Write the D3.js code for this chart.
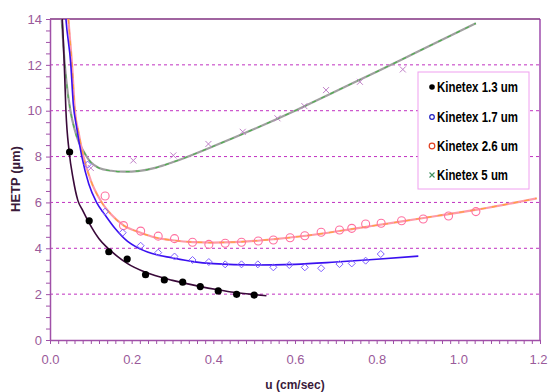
<!DOCTYPE html>
<html><head><meta charset="utf-8">
<script src="https://cdn.jsdelivr.net/npm/d3@7/dist/d3.min.js"></script>
<style>body{margin:0;background:#fff}svg{display:block}</style>
</head><body><svg id="c" width="548" height="392"></svg>
<script>
// ---- measured points ----
const u13 = [0.048,0.096,0.144,0.189,0.234,0.28,0.325,0.368,0.412,0.457,0.50];
const h13 = [8.2,5.2,3.85,3.53,2.85,2.62,2.52,2.33,2.14,1.99,1.96];
const u17 = [0.092,0.135,0.178,0.222,0.265,0.305,0.349,0.389,0.429,0.469,0.509,0.547,0.586,0.624,0.664,0.709,0.739,0.773,0.81];
const h17 = [7.65,5.6,4.68,4.11,3.81,3.64,3.49,3.4,3.3,3.3,3.3,3.17,3.27,3.17,3.13,3.31,3.34,3.46,3.75];
const u26 = [0.135,0.18,0.222,0.265,0.305,0.349,0.389,0.429,0.469,0.51,0.547,0.588,0.624,0.664,0.709,0.739,0.773,0.811,0.861,0.914,0.976,1.043];
const h26 = [6.28,4.99,4.75,4.53,4.42,4.26,4.17,4.22,4.26,4.32,4.36,4.46,4.55,4.7,4.8,4.87,5.06,5.09,5.2,5.28,5.41,5.6];
const u5 = [0.1,0.204,0.302,0.388,0.472,0.557,0.623,0.676,0.759,0.864];
const h5 = [7.5,7.83,8.05,8.55,9.08,9.67,10.2,10.9,11.26,11.8];
// ---- fitted curves ----
const fu13 = [0.028,0.030,0.035,0.039,0.047,0.057,0.068,0.08,0.096,0.12,0.139,0.165,0.19,0.234,0.3,0.366,0.412,0.45,0.5,0.53];
const fh13 = [14.5,14,12,10,8.2,7.0,6.1,5.65,5.1,4.42,4.05,3.65,3.33,2.95,2.6,2.34,2.19,2.08,1.98,1.93];
const fu17 = [0.037,0.039,0.051,0.057,0.065,0.078,0.095,0.114,0.135,0.16,0.19,0.212,0.25,0.3,0.35,0.4,0.5,0.6,0.7,0.8,0.902];
const fh17 = [14.5,14,12,10.3,9.3,8,6.8,6,5.45,4.85,4.3,4.05,3.77,3.58,3.42,3.33,3.27,3.3,3.4,3.52,3.66];
const fu26 = [0.043,0.045,0.054,0.061,0.07,0.082,0.1,0.125,0.15,0.18,0.222,0.26,0.3,0.35,0.4,0.45,0.5,0.55,0.65,0.75,0.85,0.95,1.05,1.192];
const fh26 = [14.5,14,12,10,9.05,8,6.95,6.05,5.47,5.0,4.68,4.46,4.35,4.27,4.25,4.27,4.32,4.4,4.6,4.87,5.14,5.42,5.7,6.18];
const fu5 = [0.028,0.035,0.04,0.05,0.06,0.07,0.08,0.1,0.12,0.15,0.18,0.22,0.26,0.3,0.4,0.5,0.6,0.7,0.8,0.9,1.043];
const fh5 = [14.2,12.3,11.3,10.0,9.2,8.65,8.3,7.75,7.5,7.38,7.34,7.38,7.52,7.75,8.45,9.2,10.0,10.85,11.7,12.57,13.81];
const xTicks = [0,0.2,0.4,0.6,0.8,1.0,1.2];
const yTicks = [0,2,4,6,8,10,12,14];
const legendLabels = ["Kinetex 1.3 um","Kinetex 1.7 um","Kinetex 2.6 um","Kinetex 5 um"];

const svg = d3.select("#c");
const x = d3.scaleLinear([0,1.2],[50,540]);
const y = d3.scaleLinear([0,14],[340,19]);
const zip = (a,b)=>a.map((v,i)=>[v,b[i]]);

svg.append("defs").append("clipPath").attr("id","pc").append("rect")
  .attr("x",50).attr("y",19).attr("width",490).attr("height",321);

// gridlines
svg.append("g").selectAll("line").data(yTicks.filter(d=>d>0&&d<14)).join("line")
  .attr("x1",x(0)).attr("x2",x(1.2)).attr("y1",d=>y(d)).attr("y2",d=>y(d))
  .attr("stroke","#c030c0").attr("stroke-width",1).attr("stroke-dasharray","3,3");
// top & right border
svg.append("line").attr("x1",x(0)).attr("x2",x(1.2)).attr("y1",y(14)).attr("y2",y(14))
  .attr("stroke","#803080").attr("stroke-width",1.3);
svg.append("line").attr("x1",x(1.2)).attr("x2",x(1.2)).attr("y1",y(14)).attr("y2",y(0))
  .attr("stroke","#9030a0").attr("stroke-width",1.3);

// axes
const axCol = "#a050a8", lblCol = "#9a5a9a";
const xa = svg.append("g").attr("transform",`translate(0,${y(0)})`)
  .call(d3.axisBottom(x).tickValues(d3.range(0,60.5,1).map(i=>i*0.02)).tickSize(4).tickSizeOuter(0).tickPadding(11)
    .tickFormat(d=>{const k=d/0.2; return Math.abs(k-Math.round(k))<1e-6 ? d3.format(".1f")(d) : "";}));
const ya = svg.append("g").attr("transform",`translate(${x(0)},0)`)
  .call(d3.axisLeft(y).tickValues(d3.range(0,28.5,1).map(i=>i*0.5)).tickSize(4).tickSizeOuter(0).tickPadding(4)
    .tickFormat(d=>yTicks.includes(d)?String(d):""));
[xa,ya].forEach(g=>{
  g.select(".domain").attr("stroke",axCol).attr("stroke-width",1.5);
  g.selectAll(".tick line").attr("stroke",axCol);
  g.selectAll(".tick text").attr("fill",lblCol).attr("font-family","Liberation Sans, Arial, sans-serif").attr("font-size",13);
});
// keep the last x label inside the window
xa.selectAll(".tick text").filter(d=>Math.abs(d-1.2)<1e-6).attr("text-anchor","end").attr("dx",7);

// titles
svg.append("text").attr("transform","translate(20,179) rotate(-90)").attr("text-anchor","middle")
  .attr("font-family","Liberation Sans, Arial, sans-serif").attr("font-weight","bold").attr("font-size",13)
  .attr("fill","#3a1a3a").text("HETP (µm)");
svg.append("text").attr("x",295).attr("y",389).attr("text-anchor","middle")
  .attr("font-family","Liberation Sans, Arial, sans-serif").attr("font-weight","bold").attr("font-size",12)
  .attr("fill","#3a1a3a").text("u (cm/sec)");

// curves
const line = d3.line().x(d=>x(d[0])).y(d=>y(d[1])).curve(d3.curveMonotoneX);
const cg = svg.append("g").attr("clip-path","url(#pc)");
cg.append("path").attr("d",line(zip(fu5,fh5))).attr("fill","none").attr("stroke","#a0a0a0").attr("stroke-width",2.2);
cg.append("path").attr("d",line(zip(fu5,fh5))).attr("fill","none").attr("stroke","#50b050").attr("stroke-width",1.2).attr("stroke-dasharray","4,6");
cg.append("path").attr("d",line(zip(fu26,fh26))).attr("fill","none").attr("stroke","#ff9aa8").attr("stroke-width",2.2);
cg.append("path").attr("d",line(zip(fu26,fh26))).attr("fill","none").attr("stroke","#ffa040").attr("stroke-width",1.3).attr("stroke-dasharray","5,6");
cg.append("path").attr("d",line(zip(fu17,fh17))).attr("fill","none").attr("stroke","#3a10f0").attr("stroke-width",1.6);
cg.append("path").attr("d",line(zip(fu13,fh13))).attr("fill","none").attr("stroke","#3a0a3a").attr("stroke-width",1.6);

// markers
const mg = svg.append("g");
mg.selectAll(".m5").data(zip(u5,h5)).join("path")
  .attr("d",d=>{const cx=x(d[0]),cy=y(d[1]),s=3;return `M${cx-s},${cy-s}L${cx+s},${cy+s}M${cx-s},${cy+s}L${cx+s},${cy-s}`;})
  .attr("stroke","#c080c8").attr("stroke-width",1);
mg.selectAll(".m26").data(zip(u26,h26)).join("circle")
  .attr("cx",d=>x(d[0])).attr("cy",d=>y(d[1])).attr("r",4)
  .attr("fill","none").attr("stroke","#ff70a0").attr("stroke-width",1.1);
mg.selectAll(".m17").data(zip(u17,h17)).join("path")
  .attr("d",d=>{const cx=x(d[0]),cy=y(d[1]),s=3.5;return `M${cx},${cy-s}L${cx+s},${cy}L${cx},${cy+s}L${cx-s},${cy}Z`;})
  .attr("fill","none").attr("stroke","#8060ff").attr("stroke-width",1);
mg.selectAll(".m13").data(zip(u13,h13)).join("circle")
  .attr("cx",d=>x(d[0])).attr("cy",d=>y(d[1])).attr("r",3.6).attr("fill","#000");

// legend
const lg = svg.append("g");
lg.append("rect").attr("x",418).attr("y",72).attr("width",111).attr("height",117)
  .attr("fill","#fff").attr("stroke","#f0a0f0").attr("stroke-width",1);
const rowY = [87,117,146,175];
const lw = [81,81,81,71];
lg.selectAll("text").data(legendLabels).join("text")
  .attr("x",437).attr("y",(d,i)=>rowY[i]+5).text(d=>d)
  .attr("textLength",(d,i)=>lw[i]).attr("lengthAdjust","spacingAndGlyphs")
  .attr("font-family","Liberation Sans, Arial, sans-serif").attr("font-weight","bold")
  .attr("font-size",14).attr("fill","#000");
lg.append("circle").attr("cx",432).attr("cy",rowY[0]).attr("r",2.8).attr("fill","#000");
lg.append("circle").attr("cx",432).attr("cy",rowY[1]).attr("r",2.3).attr("fill","none").attr("stroke","#2020c0").attr("stroke-width",1.2);
lg.append("circle").attr("cx",432).attr("cy",rowY[2]).attr("r",2.8).attr("fill","none").attr("stroke","#e04020").attr("stroke-width",1.2);
lg.append("path").attr("d",`M${429.5},${rowY[3]-2.5}L${434.5},${rowY[3]+2.5}M${429.5},${rowY[3]+2.5}L${434.5},${rowY[3]-2.5}`)
  .attr("stroke","#409060").attr("stroke-width",1.1);
</script></body></html>
